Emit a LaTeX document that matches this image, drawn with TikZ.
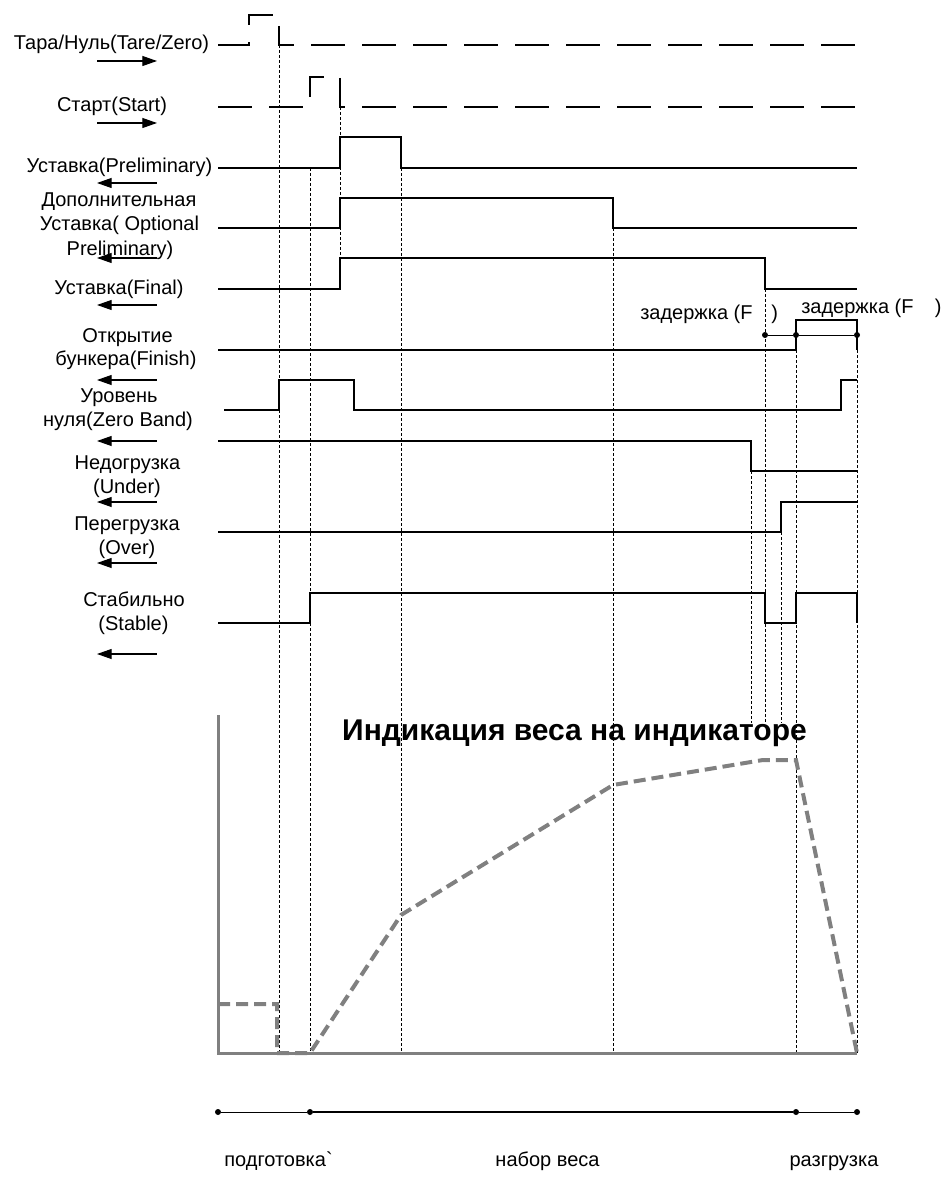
\documentclass[tikz,border=0pt]{standalone}
\usepackage{fontspec}
\newfontfamily\labelfont{Liberation Sans}
\usetikzlibrary{arrows.meta, positioning}
\definecolor{chartgray}{RGB}{128,128,128}

\begin{document}
\begin{tikzpicture}[
    x=0.75pt, y=-0.75pt,
    lbl/.style={anchor=base, inner sep=0pt, font=\labelfont\fontsize{15}{18}\selectfont},
    sig/.style={line width=1pt},
    pulse/.style={line width=1pt, dash pattern=on 25.5pt off 12.75pt},
    guide/.style={line width=0.6pt, dash pattern=on 2.25pt off 1.5pt},
    inarrow/.style={line width=0.8pt, -{Triangle[length=11pt,width=7.5pt]}},
    outarrow/.style={line width=0.8pt, {Triangle[length=11pt,width=7.5pt]}-},
    axisline/.style={line width=2.25pt, draw=chartgray},
    weight/.style={line width=3pt, draw=chartgray, dash pattern=on 9pt off 4.5pt},
    dot/.style={circle, fill, inner sep=0pt, minimum size=4.5pt}
]
\useasboundingbox (0,0) rectangle (946,1194);

% Signal names
\node[lbl] (tare) at (111.5,50) {Тара/Нуль(Tare/Zero)};
\node[lbl] (start) at (112,112) {Старт(Start)};
\node[lbl] (prelim) at (119.5,173) {Уставка(Preliminary)};
\node[lbl] (optA) at (119,207) {Дополнительная};
\node[lbl] (optB) at (119.5,231) {Уставка( Optional};
\node[lbl] (optC) at (120,256) {Preliminary)};
\node[lbl] (final) at (119,295) {Уставка(Final)};
\node[lbl] (finishA) at (127.5,342) {Открытие};
\node[lbl] (finishB) at (126,365) {бункера(Finish)};
\node[lbl] (zeroA) at (119,402) {Уровень};
\node[lbl] (zeroB) at (118,426) {нуля(Zero Band)};
\node[lbl] (underA) at (127.5,469) {Недогрузка};
\node[lbl] (underB) at (127,493) {(Under)};
\node[lbl] (overA) at (127,530) {Перегрузка};
\node[lbl] (overB) at (127,554) {(Over)};
\node[lbl] (stableA) at (134,606) {Стабильно};
\node[lbl] (stableB) at (133.5,630) {(Stable)};

% Inputs and outputs
\foreach \y in {61,123}
    \draw[inarrow] (97,\y) -- (157,\y);
\foreach \y in {183,258,305,380,441,502,563,654}
    \draw[outarrow] (97,\y) -- (157,\y);

% Time marks
\foreach \x/\a/\b in {279/45/1053, 310/168/1053, 340/107/289, 401/168/1053,
    613/228/1053, 751/441/723, 765/289/723, 781/502/723, 796/335/1053, 857/335/1053}
    \draw[guide] (\x,\a) -- (\x,\b);

% Waveforms
\draw[pulse] (218,45) -| (249,15) -| (279,45) -- (857,45);
\draw[pulse] (218,107) -| (310,77) -| (340,107) -- (857,107);
\draw[sig] (218,168) -| (340,137) -| (401,168) -- (857,168);
\draw[sig] (218,228) -| (340,198) -| (613,228) -- (857,228);
\draw[sig] (218,289) -| (340,258) -| (765,289) -- (857,289);
\draw[sig] (218,350) -| (796,320) -| (857,350);
\draw[sig] (224,410) -| (279,380) -| (354,410) -| (841,380) -- (857,380);
\draw[sig] (218,441) -| (751,471) -- (857,471);
\draw[sig] (218,532) -| (781,502) -- (857,502);
\draw[sig] (218,623) -| (310,593) -| (765,623) -| (796,593) -| (857,623);

% Delays
\node[dot] (d0) at (765,335) {};
\node[dot] (d1) at (796,335) {};
\node[dot] (d2) at (857,335) {};
\draw[line width=0.75pt] (d0) -- (d1) -- (d2);
\node[lbl, anchor=base west] (delayA) at (640,319) {задержка (F\hspace{14pt})};
\node[lbl, anchor=base west] (delayB) at (801,313) {задержка (F\hspace{16pt})};

% Weight on display
\node[anchor=base, inner sep=0pt, font=\labelfont\bfseries\fontsize{22.5}{27}\selectfont] (title) at (574.5,740) {Индикация веса на индикаторе};
\draw[axisline] (218,715) -- (218,1053) -- (857,1053);
\draw[weight] (218,1004) -| (277,1053) -- (310,1053) -- (401,915) -- (613,785)
    -- (763,760) -- (796,760) -- (857,1053);

% Phases
\node[dot] (t0) at (218,1112) {};
\node[dot] (t1) at (310,1112) {};
\node[dot] (t2) at (796,1112) {};
\node[dot] (t3) at (857,1112) {};
\draw[line width=0.75pt] (t0) -- (t1);
\draw[line width=1.1pt] (t1) -- (t2);
\draw[line width=0.75pt] (t2) -- (t3);
\node[lbl] (prep) at (278.5,1166) {подготовка`};
\node[lbl] (fill) at (547.5,1166) {набор веса};
\node[lbl] (unload) at (834,1166) {разгрузка};
\end{tikzpicture}
\end{document}
